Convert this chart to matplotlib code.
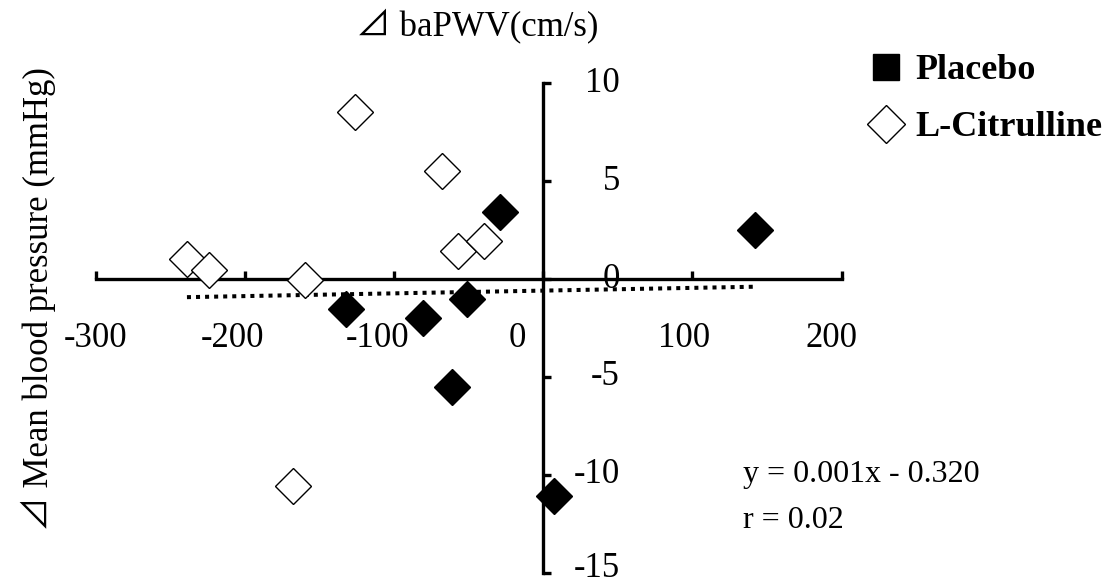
import matplotlib
matplotlib.use('Agg')
import numpy as np
import matplotlib.pyplot as plt
from matplotlib.lines import Line2D
from matplotlib.transforms import ScaledTranslation

plt.rcParams['font.family'] = ['Liberation Serif', 'Noto Sans CJK JP', 'DejaVu Sans']

# data
placebo_x = [-29, -51, -81, -132, -61, 7, 142]
placebo_y = [3.45, -1.0, -2.0, -1.55, -5.5, -11.1, 2.5]
citrulline_x = [-126, -68, -57, -40, -239, -224, -160, -168]
citrulline_y = [8.55, 5.5, 1.45, 1.95, 1.0, 0.45, -0.03, -10.55]

xticks = [-300, -200, -100, 0, 100, 200]
yticks = [-15, -10, -5, 0, 5, 10]
xtick_labels = ['-300', '-200', '-100', '0', '100', '200']
ytick_labels = ['-15', '-10', '-5', '0', '5', '10']

# trend line as drawn (visual estimate)
fit_slope = 0.0014
fit_intercept = -0.59
eq_text = 'y = 0.001x - 0.320'
r_text = 'r = 0.02'

fig = plt.figure(figsize=(11.19, 5.86), dpi=100)
W, H = 1119, 586
ax = fig.add_axes([96/W, 13.3/H, 745.5/W, 489.4/H])
ax.set_xlim(-300, 200)
ax.set_ylim(-15, 10)

for s in ['top', 'right']:
    ax.spines[s].set_visible(False)
ax.spines['left'].set_position(('data', 0))
ax.spines['bottom'].set_position(('data', 0))
for s in ['left', 'bottom']:
    ax.spines[s].set_linewidth(2.4)
    ax.spines[s].set_zorder(2)

ax.set_xticks(xticks)
ax.set_xticklabels(xtick_labels)
ax.set_yticks(yticks)
ax.set_yticklabels(ytick_labels, va='center')
ax.tick_params(axis='both', direction='in', length=6, width=2.4, labelsize=25)
ax.tick_params(axis='x', pad=31)
ax.tick_params(axis='y', pad=-55)

# excel-ish label placement under the axis
xlabel_shift_px = [0, -13, -17, -26, -8, -10]
for lab, dx in zip(ax.get_xticklabels(), xlabel_shift_px):
    lab.set_transform(lab.get_transform() + ScaledTranslation(dx/100, 0, fig.dpi_scale_trans))
# keep the bottom label inside the canvas
bottom_lab = ax.get_yticklabels()[0]
bottom_lab.set_transform(bottom_lab.get_transform() + ScaledTranslation(0, 4/100, fig.dpi_scale_trans))

# trend line
all_x = np.array(placebo_x + citrulline_x)
tx = np.array([all_x.min(), all_x.max()])
ax.plot(tx, fit_slope*tx + fit_intercept, color='black', lw=2.9,
        ls=(0, (1.0, 1.25)), dash_capstyle='butt', zorder=1)

ax.plot(citrulline_x, citrulline_y, ls='', marker='D', ms=18.8, mfc='white',
        mec='black', mew=1.0, zorder=3, clip_on=False)
ax.plot(placebo_x, placebo_y, ls='', marker='D', ms=18.8, mfc='black',
        mec='black', mew=1.0, zorder=4, clip_on=False)

fig.text(477/W, 1-35/H, '⊿ baPWV(cm/s)', fontsize=25, ha='center', va='baseline')
fig.text(38/W, 1-299/H, '⊿ Mean blood pressure (mmHg)', fontsize=25,
         rotation=90, ha='center', va='center')

fig.text(743/W, 1-482/H, eq_text, fontsize=23, ha='left', va='baseline')
fig.text(743/W, 1-528/H, r_text, fontsize=23, ha='left', va='baseline')

handles = [Line2D([], [], marker='s', ls='', color='black', ms=19.4),
           Line2D([], [], marker='D', ls='', mfc='white', mec='black', mew=1.0, ms=19.4)]
fig.legend(handles, ['Placebo', 'L-Citrulline'], loc='upper left',
           bbox_to_anchor=(868/W, 1-54/H), frameon=False, handlelength=1.0,
           handletextpad=0.30, labelspacing=0.66, borderpad=0, borderaxespad=0,
           prop={'weight': 'bold', 'size': 26})

fig.savefig('out.png', dpi=100)
